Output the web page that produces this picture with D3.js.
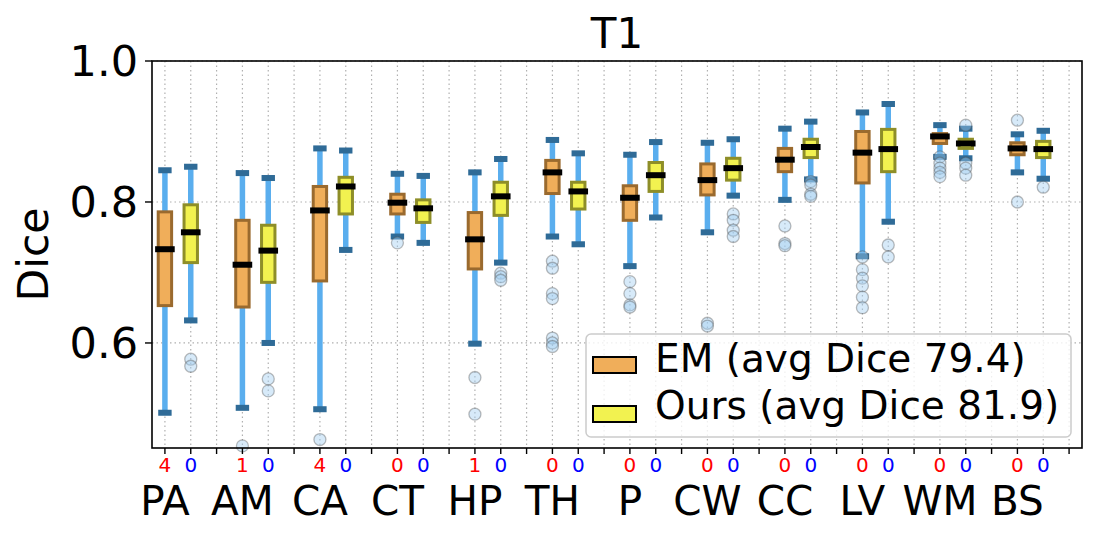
<!DOCTYPE html>
<html>
<head>
<meta charset="utf-8">
<script src="https://cdn.jsdelivr.net/npm/d3@7"></script>
<style>
  body { margin: 0; background: #fff; }
  text { font-family: "DejaVu Sans", sans-serif; }
</style>
</head>
<body>
<script>
const categories = ["PA", "AM", "CA", "CT", "HP", "TH", "P", "CW", "CC", "LV", "WM", "BS"];
const emCounts = [4, 1, 4, 0, 1, 0, 0, 0, 0, 0, 0, 0];
const oursCounts = [0, 0, 0, 0, 0, 0, 0, 0, 0, 0, 0, 0];

// [whisker low, q1, median, q3, whisker high]
const emStats = [
  [0.501, 0.653, 0.733, 0.786, 0.845],
  [0.508, 0.651, 0.711, 0.774, 0.841],
  [0.506, 0.688, 0.788, 0.822, 0.876],
  [0.751, 0.783, 0.799, 0.811, 0.840],
  [0.599, 0.705, 0.747, 0.785, 0.842],
  [0.751, 0.812, 0.842, 0.859, 0.888],
  [0.709, 0.774, 0.806, 0.823, 0.867],
  [0.757, 0.810, 0.831, 0.854, 0.884],
  [0.803, 0.843, 0.860, 0.876, 0.904],
  [0.723, 0.827, 0.870, 0.900, 0.927],
  [0.864, 0.883, 0.893, 0.897, 0.909],
  [0.842, 0.867, 0.876, 0.884, 0.896]
];
const emFliers = [
  [],
  [0.454],
  [0.463],
  [0.742],
  [0.551, 0.499],
  [0.716, 0.706, 0.670, 0.663, 0.607, 0.600, 0.595],
  [0.687, 0.670, 0.654, 0.651],
  [0.628, 0.624],
  [0.766, 0.741, 0.738],
  [0.722, 0.704, 0.692, 0.681, 0.665, 0.650],
  [0.864, 0.855, 0.848, 0.842, 0.836],
  [0.916, 0.800]
];

const oursStats = [
  [0.632, 0.714, 0.757, 0.796, 0.850],
  [0.600, 0.686, 0.731, 0.767, 0.834],
  [0.732, 0.783, 0.822, 0.835, 0.873],
  [0.742, 0.771, 0.791, 0.803, 0.837],
  [0.714, 0.781, 0.808, 0.828, 0.861],
  [0.740, 0.790, 0.815, 0.828, 0.869],
  [0.778, 0.815, 0.838, 0.856, 0.885],
  [0.809, 0.831, 0.848, 0.862, 0.889],
  [0.832, 0.863, 0.878, 0.889, 0.914],
  [0.772, 0.843, 0.875, 0.903, 0.939],
  [0.862, 0.876, 0.883, 0.889, 0.904],
  [0.833, 0.863, 0.875, 0.886, 0.901]
];
const oursFliers = [
  [0.577, 0.567],
  [0.549, 0.532],
  [],
  [],
  [0.699, 0.694, 0.689],
  [],
  [],
  [0.783, 0.774, 0.760, 0.751],
  [0.829, 0.824, 0.811, 0.808],
  [0.739, 0.722],
  [0.909, 0.855, 0.848, 0.838],
  [0.821]
];

const yTicks = [0.6, 0.8, 1.0];
const legendLabels = ["EM (avg Dice 79.4)", "Ours (avg Dice 81.9)"];

const width = 1104;
const height = 537;
const plotLeft = 152, plotRight = 1082, plotTop = 61, plotBottom = 448;

const svg = d3.select("body").append("svg")
  .attr("width", width)
  .attr("height", height);

const x = d3.scaleLinear().domain([0.5, 36.5]).range([plotLeft, plotRight]);
const y = d3.scaleLinear().domain([0.451, 1.0]).range([plotBottom, plotTop]);

const methods = [
  { stats: emStats, fliers: emFliers, offset: 1, fill: "#f0ae5a", edge: "#9a6a2e", counts: emCounts, countColor: "red" },
  { stats: oursStats, fliers: oursFliers, offset: 2, fill: "#f2f250", edge: "#8e8e28", counts: oursCounts, countColor: "blue" }
];

// grid
const grid = svg.append("g");
grid.selectAll("line.vg")
  .data(d3.range(1, 37))
  .enter().append("line")
  .attr("x1", d => x(d)).attr("x2", d => x(d))
  .attr("y1", plotTop).attr("y2", plotBottom)
  .attr("stroke", "#b0b0b0").attr("stroke-width", 1.2)
  .attr("stroke-dasharray", "1.5,3");
grid.selectAll("line.hg")
  .data(yTicks)
  .enter().append("line")
  .attr("x1", plotLeft).attr("x2", plotRight)
  .attr("y1", d => y(d)).attr("y2", d => y(d))
  .attr("stroke", "#b0b0b0").attr("stroke-width", 1.2)
  .attr("stroke-dasharray", "1.5,3");

const plot = svg.append("g");

methods.forEach(m => {
  const pos = (i) => x(3 * i + m.offset);
  const g = plot.append("g");
  // whiskers
  g.selectAll("line.wh")
    .data(m.stats)
    .enter().append("line")
    .attr("x1", (d, i) => pos(i)).attr("x2", (d, i) => pos(i))
    .attr("y1", d => y(d[0])).attr("y2", d => y(d[4]))
    .attr("stroke", "#5aaeee").attr("stroke-width", 5.5);
  // caps
  [0, 4].forEach(k => {
    g.selectAll("rect.cap" + k)
      .data(m.stats)
      .enter().append("rect")
      .attr("class", "cap" + k)
      .attr("x", (d, i) => pos(i) - 6.7)
      .attr("y", d => y(d[k]) - 3)
      .attr("width", 13.4).attr("height", 6)
      .attr("fill", "#2f6b97");
  });
  // boxes
  g.selectAll("rect.box")
    .data(m.stats)
    .enter().append("rect")
    .attr("class", "box")
    .attr("x", (d, i) => pos(i) - 6.7)
    .attr("y", d => y(d[3]))
    .attr("width", 13.4)
    .attr("height", d => y(d[1]) - y(d[3]))
    .attr("fill", m.fill)
    .attr("stroke", m.edge).attr("stroke-width", 3);
  // medians
  g.selectAll("rect.med")
    .data(m.stats)
    .enter().append("rect")
    .attr("class", "med")
    .attr("x", (d, i) => pos(i) - 9.8)
    .attr("y", d => y(d[2]) - 3)
    .attr("width", 19.6).attr("height", 6)
    .attr("fill", "#000");
});

// fliers
methods.forEach(m => {
  const pts = [];
  m.fliers.forEach((arr, i) => arr.forEach(v => pts.push({ i: i, v: v })));
  plot.append("g").selectAll("circle")
    .data(pts)
    .enter().append("circle")
    .attr("cx", d => x(3 * d.i + m.offset))
    .attr("cy", d => y(d.v))
    .attr("r", 6)
    .attr("fill", "rgba(160,205,240,0.42)")
    .attr("stroke", "rgba(80,80,80,0.38)")
    .attr("stroke-width", 1.3);
});

// frame
svg.append("rect")
  .attr("x", plotLeft).attr("y", plotTop)
  .attr("width", plotRight - plotLeft).attr("height", plotBottom - plotTop)
  .attr("fill", "none").attr("stroke", "#000").attr("stroke-width", 1.6);

// x ticks
svg.append("g").selectAll("line")
  .data(d3.range(1, 37))
  .enter().append("line")
  .attr("x1", d => x(d)).attr("x2", d => x(d))
  .attr("y1", plotBottom).attr("y2", plotBottom + 6)
  .attr("stroke", "#000").attr("stroke-width", 1.4);

// y axis ticks + labels
const yAx = svg.append("g");
yAx.selectAll("line")
  .data(yTicks)
  .enter().append("line")
  .attr("x1", plotLeft - 7).attr("x2", plotLeft)
  .attr("y1", d => y(d)).attr("y2", d => y(d))
  .attr("stroke", "#000").attr("stroke-width", 1.4);
yAx.selectAll("text")
  .data(yTicks)
  .enter().append("text")
  .attr("x", plotLeft - 14)
  .attr("y", d => y(d))
  .attr("dy", "0.36em")
  .attr("text-anchor", "end")
  .attr("font-size", 43)
  .text(d => d3.format(".1f")(d));

// count labels
methods.forEach(m => {
  svg.append("g").selectAll("text")
    .data(m.counts)
    .enter().append("text")
    .attr("x", (d, i) => x(3 * i + m.offset))
    .attr("y", 472)
    .attr("text-anchor", "middle")
    .attr("font-size", 20)
    .attr("fill", m.countColor)
    .text(d => d);
});

// category labels
svg.append("g").selectAll("text")
  .data(categories)
  .enter().append("text")
  .attr("x", (d, i) => x(3 * i + 1))
  .attr("y", 515)
  .attr("text-anchor", "middle")
  .attr("font-size", 40.5)
  .text(d => d);

// y label
svg.append("text")
  .attr("transform", "translate(48," + ((plotTop + plotBottom) / 2) + ") rotate(-90)")
  .attr("text-anchor", "middle")
  .attr("font-size", 42.5)
  .text("Dice");

// title
svg.append("text")
  .attr("x", (plotLeft + plotRight) / 2)
  .attr("y", 48)
  .attr("text-anchor", "middle")
  .attr("font-size", 42)
  .text("T1");

// legend
const legend = svg.append("g");
legend.append("rect")
  .attr("x", 586).attr("y", 334)
  .attr("width", 485).attr("height", 103)
  .attr("rx", 5)
  .attr("fill", "rgba(255,255,255,0.8)")
  .attr("stroke", "#cccccc").attr("stroke-width", 1.5);
legendLabels.forEach((lab, i) => {
  const m = methods[i];
  legend.append("rect")
    .attr("x", 593).attr("y", 357 + i * 49)
    .attr("width", 43).attr("height", 16)
    .attr("fill", m.fill)
    .attr("stroke", "#000").attr("stroke-width", 2);
  legend.append("text")
    .attr("x", 655).attr("y", 372 + i * 47)
    .attr("font-size", 39)
    .text(lab);
});
</script>
</body>
</html>
